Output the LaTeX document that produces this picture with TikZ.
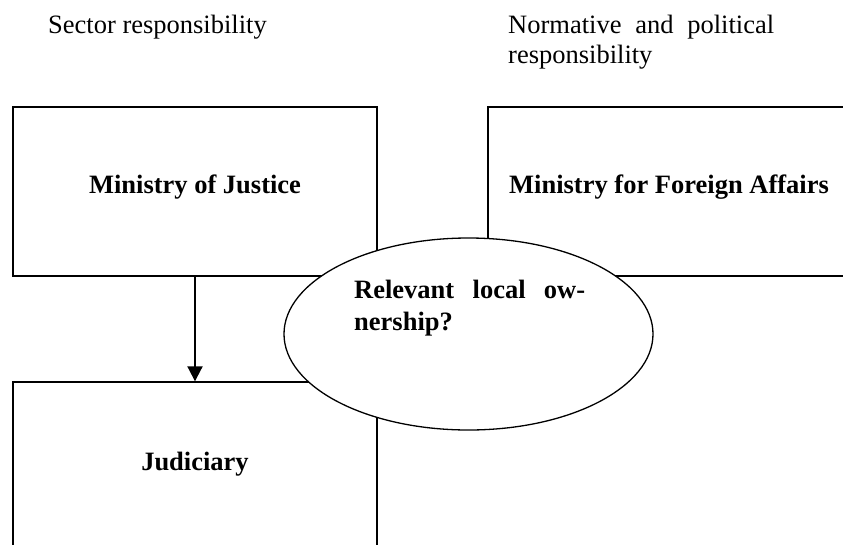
\documentclass[tikz,border=0pt]{standalone}
\usepackage{fontspec}
\setmainfont{Liberation Serif}
\usetikzlibrary{arrows.meta,shapes.geometric}
\tikzset{
  boxnode/.style={draw=black, line width=1.4pt, rectangle, inner sep=0pt},
  ovalnode/.style={draw=black, line width=1.3pt, ellipse, fill=white, inner sep=0pt},
  txt/.style={inner sep=0pt, anchor=base west, font=\fontsize{26.5}{30}\selectfont},
  btxt/.style={txt, font=\fontsize{26.5}{30}\selectfont\bfseries},
  arrowline/.style={line width=2pt, -{Triangle[length=15pt,width=15pt]}}
}
\begin{document}
\begin{tikzpicture}[x=1pt,y=-1pt]
\useasboundingbox (0,0) rectangle (843,544);
\fill[white] (0,0) rectangle (843,544);
\clip (0,0) rectangle (843,544);
% headings
\node[txt] (sector) at (48,33) {Sector responsibility};
\node[txt] (norm1) at (508,33) {\makebox[266pt][s]{Normative and political}};
\node[txt] (norm2) at (508,63) {responsibility};
% boxes
\node[boxnode, minimum width=364pt, minimum height=169pt] (moj) at (195,191.5) {};
\node[boxnode, minimum width=400pt, minimum height=169pt] (mfa) at (688,191.5) {};
\node[boxnode, minimum width=364pt, minimum height=250pt] (jud) at (195,507) {};
\node[btxt, anchor=base] (mojt) at (195,193) {Ministry of Justice};
\node[btxt] (mfat) at (509,193) {Ministry for Foreign Affairs};
\node[btxt, anchor=base] (judt) at (195,470) {Judiciary};
% arrow
\draw[arrowline] (moj.south) -- (jud.north);
% ellipse
\node[ovalnode, minimum width=369pt, minimum height=192pt] (own) at (468.5,334) {};
\node[btxt] (own1) at (354,298) {\makebox[231pt][s]{Relevant local ow-}};
\node[btxt] (own2) at (354,330) {nership?};
\end{tikzpicture}
\end{document}
